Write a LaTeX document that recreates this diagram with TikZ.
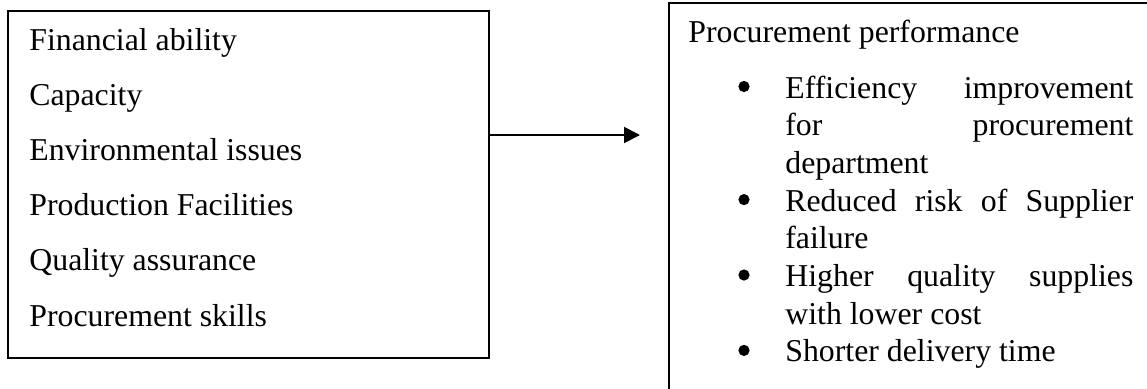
\documentclass[tikz,border=0pt]{standalone}
\usepackage{fontspec}
\setmainfont{Liberation Serif}
\usetikzlibrary{arrows.meta}

% one justified line of a bullet item, spread over the item width
\newcommand{\jline}[1]{\hbox to 174pt{#1}}

\begin{document}
\begin{tikzpicture}[x=0.5pt,y=-0.5pt,
  txt/.style={inner sep=0pt,anchor=base west,font=\fontsize{15.9pt}{18.85pt}\selectfont},
  bul/.style={circle,fill=black,inner sep=0pt,minimum size=5.6pt},
  frame/.style={draw=black,line width=1pt,inner sep=0pt,anchor=north west},
  link/.style={line width=1pt,-{Triangle[length=8pt,width=8pt]}}]
\clip (0,0) rectangle (1147,388);
\fill[white] (0,0) rectangle (1147,388);

% supplier selection factors
\node[frame,minimum width=240.5pt,minimum height=173.5pt] (factors) at (7,10) {};
\node[txt] (f1) at (29,50)    {Financial ability};
\node[txt] (f2) at (29,105.2) {Capacity};
\node[txt] (f3) at (29,160.4) {Environmental issues};
\node[txt] (f4) at (29,215.6) {Production Facilities};
\node[txt] (f5) at (29,270.8) {Quality assurance};
\node[txt] (f6) at (29,326)   {Procurement skills};

% procurement performance outcomes
\node[frame,minimum width=260pt,minimum height=210pt] (perf) at (668,2) {};
\node[txt] (title) at (688,42) {Procurement performance};

\node[bul] (d1) at (744,86.5) {};
\node[txt] (o1) at (785,98)    {\vtop{\baselineskip=18.85pt
  \jline{Efficiency\hfill improvement}
  \jline{for\hfill procurement}
  \jline{department\hfill}}};

\node[bul] (d2) at (744,199.6) {};
\node[txt] (o2) at (785,211.1) {\vtop{\baselineskip=18.85pt
  \jline{Reduced\hfill risk\hfill of\hfill Supplier}
  \jline{failure\hfill}}};

\node[bul] (d3) at (744,275) {};
\node[txt] (o3) at (785,286.5) {\vtop{\baselineskip=18.85pt
  \jline{Higher\hfill quality\hfill supplies}
  \jline{with lower cost\hfill}}};

\node[bul] (d4) at (744,350.4) {};
\node[txt] (o4) at (785,361.9) {Shorter delivery time};

% influence arrow
\coordinate (tip) at (640,135);
\draw[link] (factors.east |- tip) -- (tip);
\end{tikzpicture}
\end{document}
